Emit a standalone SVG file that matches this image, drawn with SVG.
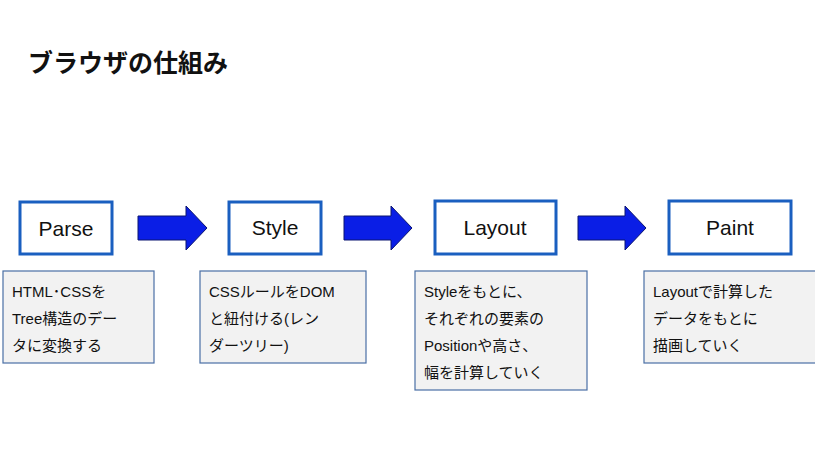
<svg xmlns="http://www.w3.org/2000/svg" width="815" height="450" viewBox="0 0 815 450">
<style>
text{font-family:"Liberation Sans","Noto Sans CJK JP",sans-serif;fill:#111}
.t{font-size:25px;font-weight:bold}
.n{fill:#fff;stroke:#1a5fc0;stroke-width:3}
.nl{font-size:21px;text-anchor:middle}
.d{fill:#f2f2f2;stroke:#4a6fa5;stroke-width:1.2}
.dl{font-size:15px}
.a{fill:#0a1ee6;stroke:#0a1470;stroke-width:1}
</style>
<rect width="815" height="450" fill="#fff"/>
<text class="t" x="28" y="72">ブラウザの仕組み</text>
<g id="parse"><rect class="n" x="20" y="202" width="92" height="52"/><text class="nl" x="66" y="236">Parse</text></g>
<g id="style"><rect class="n" x="229" y="202" width="92" height="52"/><text class="nl" x="275" y="235">Style</text></g>
<g id="layout"><rect class="n" x="435" y="201" width="121" height="53"/><text class="nl" x="495" y="235">Layout</text></g>
<g id="paint"><rect class="n" x="669" y="201" width="122" height="53"/><text class="nl" x="730" y="235">Paint</text></g>
<g id="desc-parse"><rect class="d" x="3" y="271" width="151" height="92"/>
<text class="dl" x="12" y="297">HTML･CSSを</text><text class="dl" x="12" y="324">Tree構造のデー</text><text class="dl" x="12" y="351">タに変換する</text></g>
<g id="desc-style"><rect class="d" x="200" y="271" width="166" height="92"/>
<text class="dl" x="209" y="297">CSSルールをDOM</text><text class="dl" x="209" y="324">と紐付ける(レン</text><text class="dl" x="209" y="351">ダーツリー)</text></g>
<g id="desc-layout"><rect class="d" x="415" y="271" width="172" height="119"/>
<text class="dl" x="424" y="297">Styleをもとに、</text><text class="dl" x="424" y="324">それぞれの要素の</text><text class="dl" x="424" y="351">Positionや高さ、</text><text class="dl" x="424" y="378">幅を計算していく</text></g>
<g id="desc-paint"><rect class="d" x="644" y="271" width="175" height="92"/>
<text class="dl" x="653" y="297">Layoutで計算した</text><text class="dl" x="653" y="324">データをもとに</text><text class="dl" x="653" y="351">描画していく</text></g>
<g id="connectors">
<polygon class="a" points="138,216 186,216 186,206 207,228 186,250 186,240 138,240"/>
<polygon class="a" points="344,216 391,216 391,206 412,228 391,250 391,240 344,240"/>
<polygon class="a" points="578,216 625,216 625,206 646,228 625,250 625,240 578,240"/>
</g>
</svg>
